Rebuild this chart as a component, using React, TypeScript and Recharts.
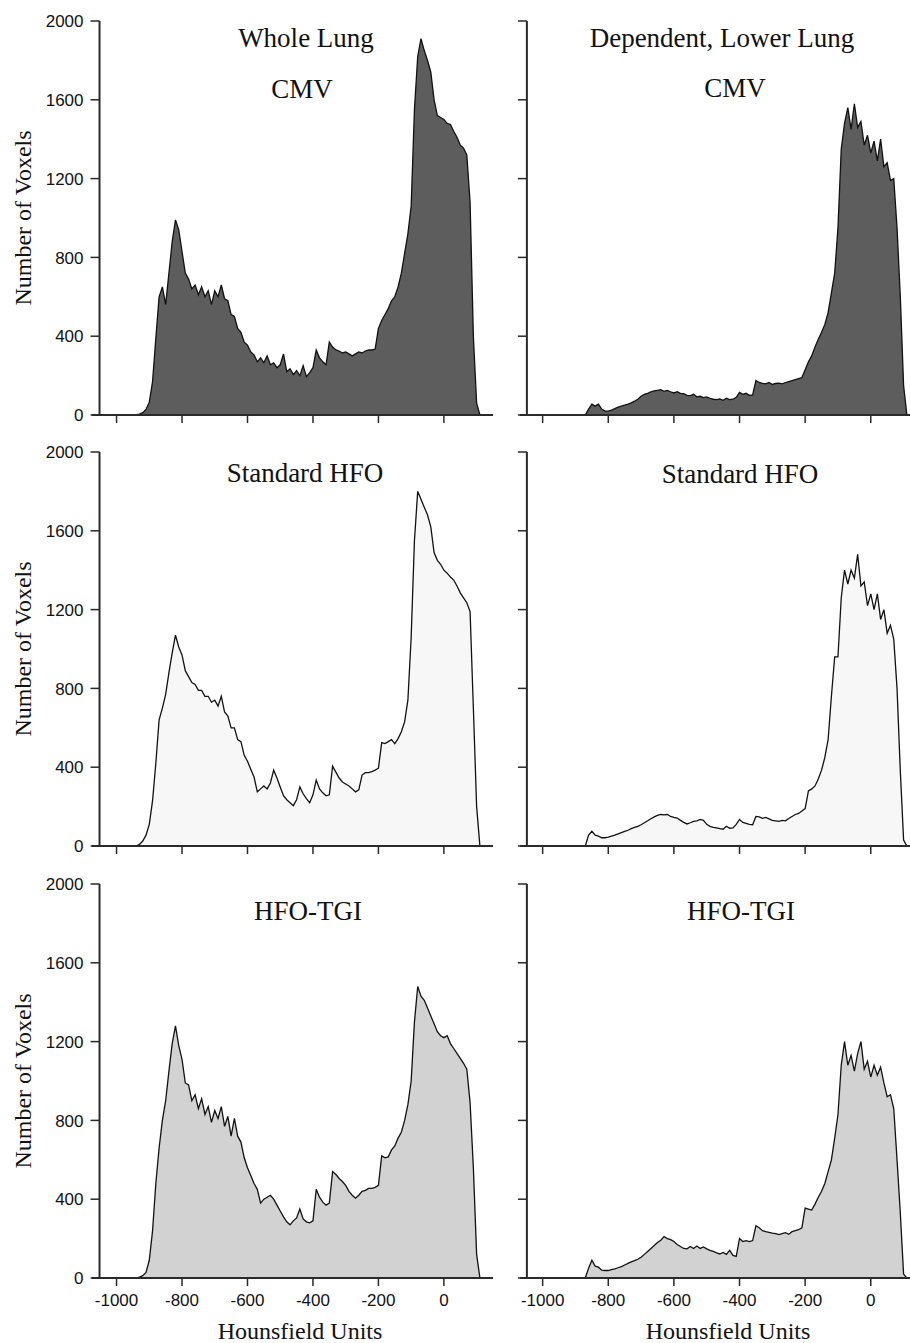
import React from "react";
import { AreaChart, Area, XAxis, YAxis, ReferenceLine } from "recharts";

// histogram bins, 10 HU wide, starting at -1000 HU
const BIN_START = -1000;
const BIN_WIDTH = 10;

const yTicks = [0, 400, 800, 1200, 1600, 2000];
const xTicks = [-1000, -800, -600, -400, -200, 0];

// voxel counts per bin (one row = 100 HU)
const wholeCmv = [
  0, 0, 0, 0, 0, 0, 2, 5, 12, 28,
  65, 170, 390, 600, 650, 560, 720, 880, 990, 940,
  830, 720, 690, 640, 660, 610, 650, 600, 630, 560,
  630, 600, 660, 590, 580, 510, 500, 440, 420, 370,
  355, 320, 305, 270, 290, 265, 300, 255, 265, 240,
  255, 310, 220, 235, 205, 225, 200, 250, 195, 215,
  240, 330, 290, 270, 255, 370, 345, 330, 325, 315,
  320, 310, 300, 310, 320, 315, 325, 330, 330, 335,
  440, 480, 510, 540, 580, 600, 650, 720, 820, 920,
  1060, 1550, 1820, 1910, 1850, 1800, 1740, 1600, 1520, 1510,
  1500, 1480, 1475, 1440, 1410, 1370, 1355, 1320, 1080, 400,
  60, 0, 0,
];

const lowerCmv = [
  0, 0, 0, 0, 0, 0, 0, 0, 0, 0,
  0, 0, 0, 0, 30, 55, 45, 55, 30, 20,
  20, 25, 32, 40, 45, 50, 55, 62, 70, 80,
  95, 105, 110, 118, 122, 125, 128, 120, 125, 118,
  112, 118, 110, 108, 100, 98, 105, 92, 95, 88,
  92, 85, 80, 78, 82, 75, 85, 78, 80, 90,
  115, 105, 110, 100, 102, 175, 165, 160, 158, 165,
  155, 160, 162, 158, 165, 170, 175, 180, 185, 190,
  230, 270, 300, 345, 385, 420, 460, 520, 620, 720,
  950, 1350, 1480, 1560, 1450, 1580, 1460, 1490, 1370, 1420,
  1330, 1390, 1290, 1400, 1260, 1280, 1190, 1200, 950, 600,
  150, 0, 0,
];

const wholeStd = [
  0, 0, 0, 0, 0, 0, 0, 8, 25, 55,
  110, 230, 420, 640, 700, 770, 880, 980, 1070, 1010,
  970, 890, 860, 830, 820, 790, 790, 760, 760, 730,
  740, 710, 760, 680, 660, 600, 600, 540, 530, 460,
  430, 390, 350, 275, 290, 305, 290, 320, 385, 345,
  300, 255, 235, 220, 205, 235, 300, 265, 240, 220,
  260, 335, 290, 270, 255, 260, 405, 375, 345, 325,
  315, 305, 290, 275, 285, 360, 372, 372, 378, 385,
  395, 525, 520, 530, 540, 520, 545, 580, 630, 740,
  1060, 1550, 1800, 1760, 1720, 1680, 1620, 1490, 1450, 1430,
  1400, 1385, 1365, 1350, 1320, 1285, 1260, 1235, 1190, 700,
  200, 0, 0,
];

const lowerStd = [
  0, 0, 0, 0, 0, 0, 0, 0, 0, 0,
  0, 0, 0, 0, 55, 75, 55, 50, 42, 42,
  45, 50, 55, 62, 68, 74, 80, 88, 95, 100,
  108, 118, 128, 138, 148, 155, 160, 158, 160, 150,
  145, 142, 130, 120, 112, 118, 125, 128, 135, 130,
  110, 100, 95, 92, 88, 85, 100, 90, 92, 110,
  135, 120, 115, 110, 108, 150, 148, 140, 145, 138,
  130, 128, 125, 130, 128, 140, 150, 160, 165, 178,
  190, 280, 290, 305, 340, 385, 450, 540, 760, 960,
  960, 1260, 1400, 1330, 1400, 1360, 1480, 1320, 1340, 1220,
  1280, 1200, 1280, 1150, 1200, 1080, 1120, 1050, 800, 380,
  30, 0, 0,
];

const wholeTgi = [
  0, 0, 0, 0, 0, 0, 0, 5, 12, 28,
  90, 240, 480, 660, 800, 900, 1050, 1190, 1280, 1180,
  1110, 990, 980, 900, 930, 860, 910, 830, 870, 790,
  850, 810, 870, 770, 820, 720, 810, 720, 690, 610,
  560, 520, 480, 450, 380, 400, 410, 420, 400, 370,
  340, 310, 285, 270, 290, 305, 350, 300, 285, 280,
  290, 450, 410, 385, 370, 380, 540, 525, 505, 490,
  470, 440, 420, 405, 420, 440, 445, 455, 455, 460,
  470, 620, 610, 615, 650, 670, 710, 740, 800, 880,
  1000, 1300, 1480, 1430, 1410, 1370, 1330, 1290, 1250, 1230,
  1220, 1230, 1190, 1165, 1140, 1115, 1090, 1060, 890, 560,
  120, 0, 0,
];

const lowerTgi = [
  0, 0, 0, 0, 0, 0, 0, 0, 0, 0,
  0, 0, 0, 0, 50, 90, 60, 55, 40, 38,
  38, 42, 46, 52, 58, 66, 74, 82, 88, 95,
  105, 120, 135, 150, 165, 180, 192, 210, 200, 195,
  185, 170, 160, 150, 148, 160, 150, 162, 150, 158,
  148, 140, 135, 128, 122, 130, 120, 140, 115, 110,
  200, 185, 190, 185, 190, 265, 255, 240, 235, 232,
  228, 225, 220, 225, 230, 222, 235, 240, 245, 255,
  355, 350, 345, 375, 410, 440, 480, 540, 600, 710,
  830, 1080, 1200, 1080, 1130, 1050, 1140, 1200, 1060, 1100,
  1020, 1080, 1030, 1070, 990, 920, 930, 860, 600, 330,
  20, 0, 0,
];

const hu = wholeCmv.map((_, i) => BIN_START + i * BIN_WIDTH);

const AXIS = "#2a2a2a";
const SERIF = "'Liberation Serif', 'Times New Roman', serif";
const SANS = "'Liberation Sans', Arial, sans-serif";

const rowTops = [21, 452, 884];
const PLOT_H = 394;
const TOP_PAD = 12;
const X_AXIS_H = 40;
const X_MAX = 150;

const rowFills = ["#5d5d5d", "#f7f7f7", "#d2d2d2"];

// left/right column geometry (x axis starts a little left of the y axis)
const columns = {
  left: { chartLeft: 0, marginLeft: 39, yWidth: 53, plotW: 401, xMin: -1075, yAxisAt: -1052, labels: true },
  right: { chartLeft: 480, marginLeft: 7, yWidth: 33, plotW: 400, xMin: -1069, yAxisAt: -1048, labels: false },
};

type PanelProps = {
  values: number[];
  fill: string;
  row: number;
  side: "left" | "right";
};

function Panel({ values, fill, row, side }: PanelProps) {
  const data = hu.map((h, i) => ({ hu: h, voxels: values[i] }));
  const col = columns[side];
  const plotLeft = col.marginLeft + col.yWidth;
  const yAxisX = plotLeft + ((col.yAxisAt - col.xMin) * col.plotW) / (X_MAX - col.xMin);
  const axisY = TOP_PAD + PLOT_H;
  const showX = row === 2;

  const renderYTick = (props: any) => {
    const { y, payload } = props;
    return (
      <g>
        <line x1={yAxisX - 9} x2={yAxisX} y1={y} y2={y} stroke={AXIS} strokeWidth={1.5} />
        {col.labels && (
          <text x={yAxisX - 16} y={y} dy="0.36em" textAnchor="end" fill="#111" fontSize={17} fontFamily={SANS}>
            {payload.value}
          </text>
        )}
      </g>
    );
  };

  const renderXTick = (props: any) => {
    const { x, payload } = props;
    return (
      <g>
        <line x1={x} x2={x} y1={axisY} y2={axisY + 8} stroke={AXIS} strokeWidth={1.5} />
        {showX && (
          <text x={x} y={axisY + 28} textAnchor="middle" fill="#111" fontSize={17} fontFamily={SANS}>
            {payload.value}
          </text>
        )}
      </g>
    );
  };

  return (
    <div style={{ position: "absolute", left: col.chartLeft, top: rowTops[row] - TOP_PAD }}>
      <AreaChart
        width={plotLeft + col.plotW + 10}
        height={TOP_PAD + PLOT_H + X_AXIS_H}
        data={data}
        margin={{ top: TOP_PAD, right: 10, bottom: 0, left: col.marginLeft }}
      >
        <XAxis
          type="number"
          dataKey="hu"
          domain={[col.xMin, X_MAX]}
          allowDataOverflow
          ticks={xTicks}
          interval={0}
          height={X_AXIS_H}
          tickSize={0}
          tickMargin={0}
          axisLine={{ stroke: AXIS, strokeWidth: 2 }}
          tickLine={false}
          tick={renderXTick}
        />
        <YAxis
          type="number"
          domain={[0, 2000]}
          ticks={yTicks}
          interval={0}
          width={col.yWidth}
          tickSize={0}
          tickMargin={0}
          axisLine={false}
          tickLine={false}
          tick={renderYTick}
        />
        <ReferenceLine x={col.yAxisAt} stroke={AXIS} strokeWidth={2} />
        <Area
          type="linear"
          dataKey="voxels"
          stroke="#111"
          strokeWidth={1.3}
          fill={fill}
          fillOpacity={1}
          dot={false}
          activeDot={false}
          isAnimationActive={false}
        />
      </AreaChart>
    </div>
  );
}

const panels: PanelProps[] = [
  { values: wholeCmv, fill: rowFills[0], row: 0, side: "left" },
  { values: lowerCmv, fill: rowFills[0], row: 0, side: "right" },
  { values: wholeStd, fill: rowFills[1], row: 1, side: "left" },
  { values: lowerStd, fill: rowFills[1], row: 1, side: "right" },
  { values: wholeTgi, fill: rowFills[2], row: 2, side: "left" },
  { values: lowerTgi, fill: rowFills[2], row: 2, side: "right" },
];

const titles = [
  { text: "Whole Lung", x: 306, y: 47 },
  { text: "CMV", x: 302, y: 98 },
  { text: "Dependent, Lower Lung", x: 722, y: 47 },
  { text: "CMV", x: 735, y: 97 },
  { text: "Standard HFO", x: 305, y: 482 },
  { text: "Standard HFO", x: 740, y: 483 },
  { text: "HFO-TGI", x: 308, y: 920 },
  { text: "HFO-TGI", x: 741, y: 920 },
];

export default function App() {
  return (
    <div
      style={{
        position: "absolute",
        left: 0,
        top: 0,
        width: 910,
        height: 1343,
        overflow: "hidden",
        background: "#fff",
      }}
    >
      {panels.map((p, i) => (
        <Panel key={i} {...p} />
      ))}
      <svg
        width={910}
        height={1343}
        style={{ position: "absolute", left: 0, top: 0, pointerEvents: "none" }}
      >
        {titles.map((t, i) => (
          <text key={i} x={t.x} y={t.y} textAnchor="middle" fontFamily={SERIF} fontSize={27} fill="#111">
            {t.text}
          </text>
        ))}
        {rowTops.map((top, i) => (
          <text
            key={"yl" + i}
            transform={`translate(31, ${top + PLOT_H / 2}) rotate(-90)`}
            textAnchor="middle"
            fontFamily={SERIF}
            fontSize={24}
            fill="#111"
          >
            Number of Voxels
          </text>
        ))}
        <text x={300} y={1339} textAnchor="middle" fontFamily={SERIF} fontSize={24} fill="#111">
          Hounsfield Units
        </text>
        <text x={728} y={1339} textAnchor="middle" fontFamily={SERIF} fontSize={24} fill="#111">
          Hounsfield Units
        </text>
      </svg>
    </div>
  );
}
